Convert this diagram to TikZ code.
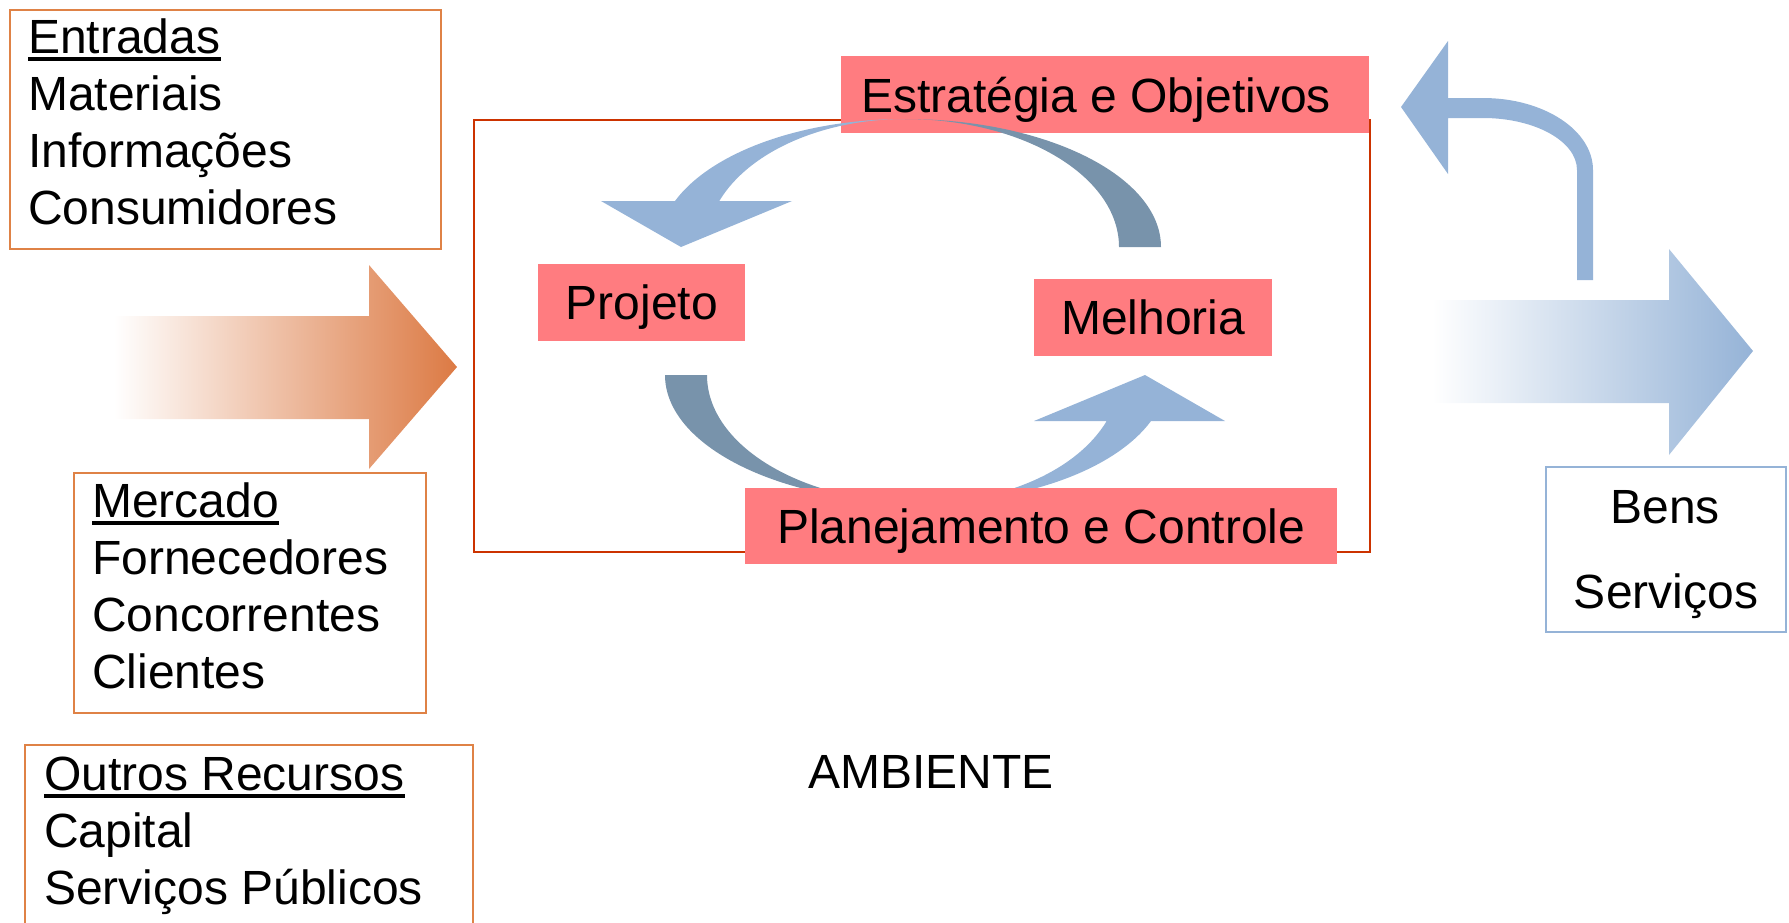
\documentclass[tikz,border=0pt]{standalone}
\usepackage{fontspec}
\setmainfont{Liberation Sans}
\definecolor{orangeB}{HTML}{DF8246}
\definecolor{orangeT}{HTML}{DC7A44}
\definecolor{redA}{HTML}{CC3300}
\definecolor{pinkA}{HTML}{FF7C80}
\definecolor{blueL}{HTML}{95B3D7}
\definecolor{blueD}{HTML}{7893AB}
\newcommand\loopband{%
  \fill[blueD] (1161,247) arc[start angle=0,end angle=90,x radius=256pt,y radius=128pt]
    arc[start angle=90,end angle=0,x radius=214pt,y radius=128pt] -- cycle;
  \fill[blueL] (905,119) arc[start angle=90,end angle=158.94,x radius=246.5pt,y radius=128pt]
    -- (601,201) -- (681,247) -- (792,201) -- (719.3,201)
    arc[start angle=158.94,end angle=90,x radius=199pt,y radius=128pt] -- cycle;
}
\begin{document}
\begin{tikzpicture}[x=1pt,y=-1pt,
  big/.style={font=\fontsize{48}{57}\selectfont},
  txt/.style={big,inner sep=0pt,anchor=base west},
  obox/.style={draw=orangeB,line width=1.8pt,inner sep=0pt,anchor=north west},
  pinkbox/.style={big,fill=pinkA,inner sep=0pt,anchor=north west,text height=34pt,text depth=0pt},
  uline/.style={line width=3.3pt}]
\useasboundingbox (0,0) rectangle (1789,922);

% environment box
\node[draw=redA,line width=2pt,inner sep=0pt,anchor=north west,minimum width=896pt,minimum height=432pt] (env) at (473,119) {};

% left boxes
\node[obox,minimum width=431pt,minimum height=239pt] (entbox) at (9,9) {};
\node[obox,minimum width=352pt,minimum height=240pt] (mercbox) at (73,472) {};
\node[obox,minimum width=448pt,minimum height=220pt] (outbox) at (24,744) {};

\node[txt] (e1) at (28,53) {Entradas};
\node[txt] (e2) at (28,110) {Materiais};
\node[txt] (e3) at (28,167) {Informações};
\node[txt] (e4) at (28,224) {Consumidores};
\draw[uline] ([yshift=-6pt]e1.base west) -- ([yshift=-6pt]e1.base east);

\node[txt] (m1) at (92,517) {Mercado};
\node[txt] (m2) at (92,574) {Fornecedores};
\node[txt] (m3) at (92,631) {Concorrentes};
\node[txt] (m4) at (92,688) {Clientes};
\draw[uline] ([yshift=-6pt]m1.base west) -- ([yshift=-6pt]m1.base east);

\node[txt] (o1) at (44,790) {Outros Recursos};
\node[txt] (o2) at (44,847) {Capital};
\node[txt] (o3) at (44,904) {Serviços Públicos};
\draw[uline] ([yshift=-6pt]o1.base west) -- ([yshift=-6pt]o1.base east);

\node[txt] (amb) at (808,788) {AMBIENTE};

% input arrow
\path[left color=white,right color=orangeT] (114,316) -- (369,316) -- (369,265) -- (457,367)
  -- (369,469) -- (369,419) -- (114,419) -- cycle;

% output arrow
\path[left color=white,right color=blueL] (1432,300) -- (1669,300) -- (1669,249) -- (1753,351)
  -- (1669,455) -- (1669,403) -- (1432,403) -- cycle;

% feedback bent arrow
\fill[blueL] (1593,280) -- (1593,170) arc[start angle=0,end angle=90,x radius=110pt,y radius=72pt]
  -- (1448,98) -- (1448,41) -- (1401,107) -- (1448,174) -- (1448,118) -- (1483,118)
  arc[start angle=90,end angle=0,x radius=94pt,y radius=52pt] -- (1577,280) -- cycle;

% output box
\node[draw=blueL,line width=1.8pt,inner sep=0pt,anchor=north west,minimum width=240pt,minimum height=165pt] (bensbox) at (1545,466) {};
\node[big,inner sep=0pt,anchor=base] (b1) at (1665,523) {Bens};
\node[big,inner sep=0pt,anchor=base] (b2) at (1666,608) {Serviços};

% strategy box
\node[pinkbox,minimum width=528pt,minimum height=77pt] (estbox) at (841,56) {};
\node[txt] (est) at (861,112) {Estratégia e Objetivos};

% cycle arrows
\loopband
\begin{scope}[rotate around={180:(913,311)}]
\loopband
\end{scope}

% pink boxes
\node[pinkbox,minimum width=592pt,minimum height=76pt] (pc) at (745,488) {Planejamento e Controle};
\node[pinkbox,minimum width=207pt,minimum height=77pt] (proj) at (538,264) {Projeto};
\node[pinkbox,minimum width=238pt,minimum height=77pt] (melh) at (1034,279) {Melhoria};
\end{tikzpicture}
\end{document}
